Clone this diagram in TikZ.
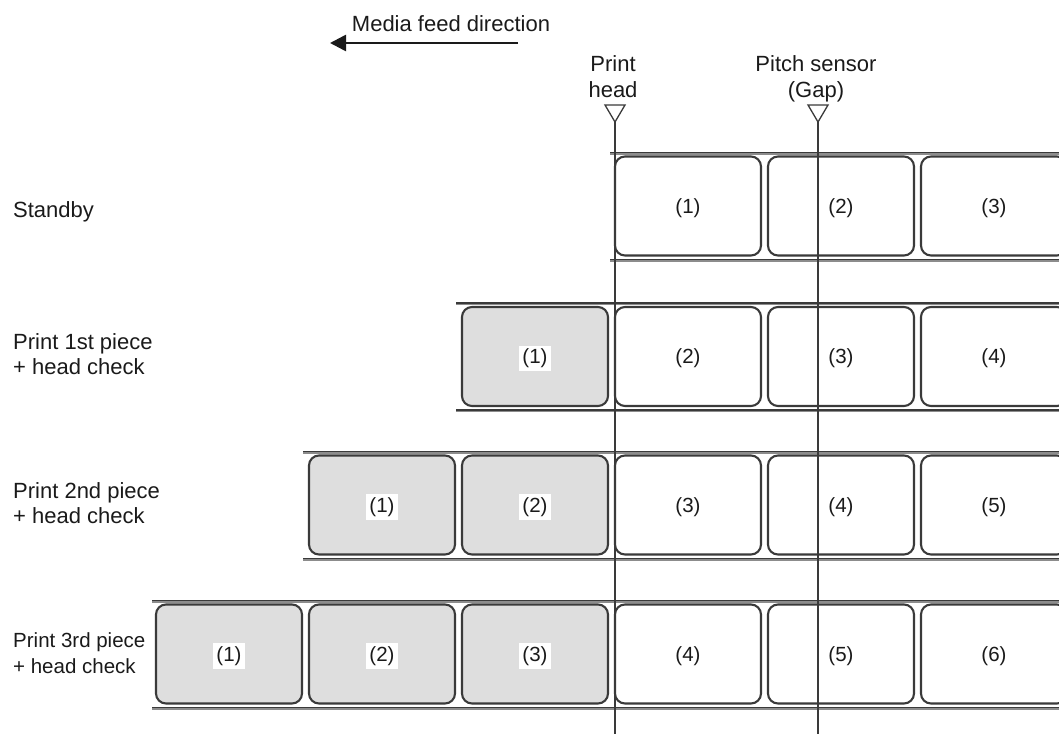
\documentclass[tikz,border=0pt]{standalone}
\usepackage{fontspec}
\setmainfont{Liberation Sans}
\usetikzlibrary{arrows.meta}
\definecolor{ln}{HTML}{3A3A3A}
\definecolor{ln2}{HTML}{8C8C8C}
\definecolor{gfill}{HTML}{DEDEDE}
\definecolor{txt}{HTML}{1A1A1A}
\begin{document}
\begin{tikzpicture}[x=1pt,y=-1pt,
  lbl/.style={font=\fontsize{22}{25.5}\selectfont, text=txt, inner sep=0pt, align=left, anchor=north west},
  toplbl/.style={font=\fontsize{22}{26.5}\selectfont, text=txt, inner sep=0pt, align=center, anchor=north},
  strip/.style={draw=ln, line width=1.6pt},
  strip2/.style={draw=ln2, line width=1.2pt},
  cell/.style={draw=ln, line width=2.1pt, rounded corners=10pt, minimum width=146pt, minimum height=99pt, inner sep=0pt, fill=white},
  used/.style={cell, fill=gfill},
  num/.style={font=\fontsize{20.5}{24}\selectfont, text=txt, inner sep=3pt},
  usednum/.style={num, fill=white},
  vline/.style={draw=ln, line width=1.6pt},
  tri/.style={draw=ln, line width=1.3pt, fill=white, line join=miter},
  feed/.style={draw=txt, line width=2.6pt, -{Triangle[length=16pt,width=16pt]}}]
\useasboundingbox (0,0) rectangle (1059,733);
\clip (0,0) rectangle (1059,733);

% header
\node[toplbl] (mf) at (451,15) {Media feed direction};
\coordinate (fa) at (518,43);
\coordinate (fb) at (330,43);
\draw[feed] (fa) -- (fb);
\node[toplbl] (phl) at (613,55) {Print\\head};
\node[toplbl] (psl) at (816,55) {Pitch sensor\\(Gap)};

% row labels
\node[lbl] (L1) at (13,201) {Standby};
\node[lbl] (L2) at (13,333) {Print 1st piece\\+ head check};
\node[lbl] (L3) at (13,482) {Print 2nd piece\\+ head check};
\node[lbl, font=\fontsize{20.5}{26}\selectfont] (L4) at (13,632) {Print 3rd piece\\+ head check};

% media strips
\foreach \r/\cy/\sx/\first in {1/206/610/4, 2/356.5/456/3, 3/505/303/2, 4/654/152/1}{
  \coordinate (t\r-a) at (\sx,\cy-53.5);
  \coordinate (t\r-b) at (1065,\cy-53.5);
  \coordinate (u\r-a) at (\sx,\cy+53.5);
  \coordinate (u\r-b) at (1065,\cy+53.5);
  \draw[strip2] ([yshift=-1.4pt]t\r-a) -- ([yshift=-1.4pt]t\r-b);
  \draw[strip2] ([yshift=-1.4pt]u\r-a) -- ([yshift=-1.4pt]u\r-b);
  \draw[strip] (t\r-a) -- (t\r-b);
  \draw[strip] (u\r-a) -- (u\r-b);
  \foreach \c in {\first,...,6}{
    \pgfmathtruncatemacro{\n}{\c-\first+1}
    \pgfmathsetmacro{\bx}{229+(\c-1)*153}
    \ifnum\c<4
      \node[used] (b\r-\c) at (\bx,\cy) {};
      \node[usednum] (n\r-\c) at (\bx,\cy+2) {(\n)};
    \else
      \node[cell] (b\r-\c) at (\bx,\cy) {};
      \node[num] (n\r-\c) at (\bx,\cy+2) {(\n)};
    \fi
  }
}

% print head and pitch sensor
\coordinate (ph) at (615,122);
\coordinate (phb) at (615,740);
\coordinate (ps) at (818,122);
\coordinate (psb) at (818,740);
\draw[vline] (ph) -- (phb);
\draw[vline] (ps) -- (psb);
\draw[tri] (605,105) -- (625,105) -- (ph) -- cycle;
\draw[tri] (808,105) -- (828,105) -- (ps) -- cycle;
\end{tikzpicture}
\end{document}
